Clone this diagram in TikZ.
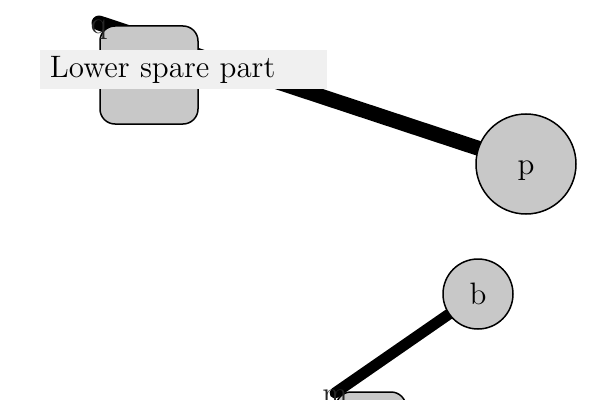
\documentclass[tikz,border=0pt]{standalone}
\usetikzlibrary{backgrounds}
\definecolor{nodegray}{HTML}{C8C8C8}
\definecolor{labelgray}{HTML}{F0F0F0}
\begin{document}
\begin{tikzpicture}[x=0.4pt,y=-0.4pt,
  txt/.style={font=\fontsize{12.4}{15}\selectfont,text height=8pt,text depth=0pt},
  boxnode/.style={draw=black,line width=0.6pt,fill=nodegray,rounded corners=6pt,inner sep=0pt},
  circnode/.style={draw=black,line width=0.6pt,fill=nodegray,circle,inner sep=0pt,txt},
  tag/.style={inner sep=0pt,txt,text=black!85},
  conn/.style={draw=black,line cap=round}]
\useasboundingbox (0,0) rectangle (600,400);
\node[boxnode,minimum width=39.2pt,minimum height=39.2pt] (sq1) at (149,75) {};
\node[boxnode,minimum width=28pt,minimum height=39.2pt] (sq2) at (371,441) {};
\node[circnode,minimum size=40pt] (p) at (526,164) {p};
\node[circnode,minimum size=28pt] (b) at (478,294) {b};
\node[tag] (q) at (99,23) {q};
\node[tag] (m) at (335,393) {m};
\node[fill=labelgray,inner sep=0pt,minimum width=114.8pt,minimum height=15.6pt,
      text width=106.8pt,align=left,font=\fontsize{12.4}{15}\selectfont] (lbl) at (183.5,69.5) {Lower spare part};
\begin{scope}[on background layer]
  \draw[conn,line width=6pt] (q.center) -- (p);
  \draw[conn,line width=4.4pt] (b) -- (m.center);
\end{scope}
\end{tikzpicture}
\end{document}
